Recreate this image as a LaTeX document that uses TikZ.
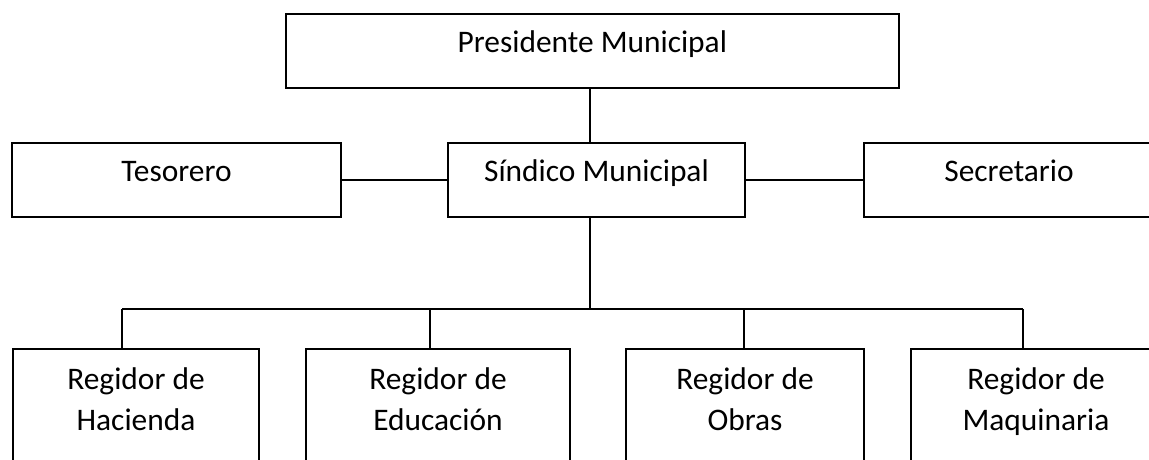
\documentclass[tikz,border=0pt]{standalone}
\usepackage{fontspec}
\setmainfont{Carlito}
\usepackage{tikz}
\newcommand{\tworows}[2]{\parbox[c][150pt][t]{220pt}{\centering #1\\#2}}
\tikzset{
	box/.style={draw, line width=2pt, outer sep=0pt, minimum height=74pt, text height=0.8em, text depth=0.48em, font=\fontsize{31.4}{41}\selectfont},
	lowbox/.style={draw, line width=2pt, outer sep=0pt, anchor=north, inner ysep=19pt, font=\fontsize{31.4}{41}\selectfont},
	wire/.style={line width=1.5pt}
}

\begin{document}
\begin{tikzpicture}[x=1pt, y=-1pt]
			%%%%% START %%%%%
			
			\useasboundingbox (0, 0) rectangle (1149, 459);
			\clip (0, 0) rectangle (1149, 459);
			
			\node[box, minimum width=613pt] (pres) at (592.35, 51) {Presidente Municipal};
			
			\node[box, minimum width=329pt] (tes) at (176.5, 180) {Tesorero};
			\node[box, minimum width=297pt] (sind) at (596.5, 180) {Síndico Municipal};
			\node[box, minimum width=290pt] (sec) at (1009, 180) {Secretario};
			
			\node[lowbox, minimum width=246pt] (hac) at (136, 349) {\tworows{Regidor de}{Hacienda}};
			\node[lowbox, minimum width=264pt] (edu) at (438, 349) {\tworows{Regidor de}{Educación}};
			\node[lowbox, minimum width=238pt] (obr) at (745, 349) {\tworows{Regidor de}{Obras}};
			\node[lowbox, minimum width=250pt] (maq) at (1036, 349) {\tworows{Regidor de}{Maquinaria}};
			
			\coordinate (spine) at (590, 309);
			\coordinate (d1) at (122, 309);
			\coordinate (d2) at (430, 309);
			\coordinate (d3) at (744, 309);
			\coordinate (d4) at (1023, 309);
			
			\draw[wire] (pres.south -| spine) -- (sind.north -| spine);
			\draw[wire] (tes.east) -- (sind.west);
			\draw[wire] (sind.east) -- (sec.west);
			\draw[wire] (sind.south -| spine) -- (spine);
			
			\draw[wire] (d1) -- (d4);
			\draw[wire] (d1) -- (d1 |- hac.north);
			\draw[wire] (d2) -- (d2 |- edu.north);
			\draw[wire] (d3) -- (d3 |- obr.north);
			\draw[wire] (d4) -- (d4 |- maq.north);
			
			%%%%% END %%%%%
\end{tikzpicture}
\end{document}
